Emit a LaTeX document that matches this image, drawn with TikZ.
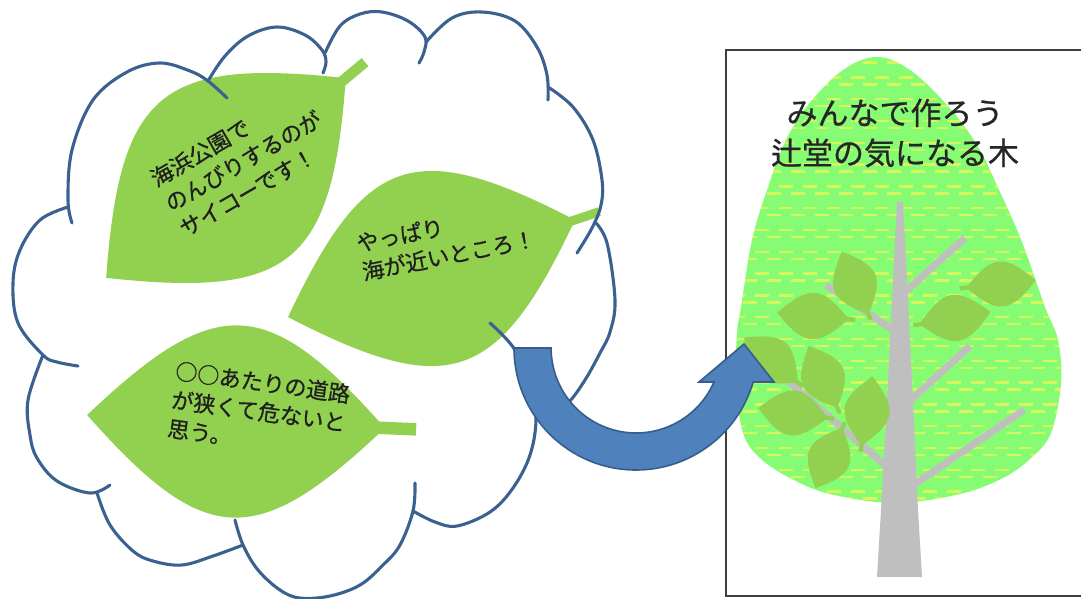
\documentclass[tikz,border=0pt]{standalone}
\usepackage{fontspec}
\newfontfamily\jpfont[FakeBold=0.7]{Noto Sans CJK JP}
\definecolor{leafgreen}{HTML}{92D050}
\definecolor{cloudline}{HTML}{3B6190}
\definecolor{arrowfill}{HTML}{4F81BD}
\definecolor{arrowline}{HTML}{385D8A}
\definecolor{canopy}{HTML}{86FC74}
\definecolor{canopydash}{HTML}{D6F65C}
\definecolor{bark}{HTML}{BFBFBF}
\definecolor{framegray}{HTML}{3F3F3F}

% leaf: centre x, centre y, rotation, half length, stem half width, stem end
\newcommand\drawleaf[6]{%
  \begin{scope}[shift={(#1,#2)}, rotate=#3, x=#4pt, y=#4pt]
    \fill[leafgreen] (-1,0) .. controls (-0.17,0.86) and (0.17,0.86) .. (1,0)
       .. controls (0.17,-0.86) and (-0.17,-0.86) .. (-1,0) -- cycle;
    \fill[leafgreen] (0.85,-#5) rectangle (#6,#5);
  \end{scope}}

\begin{document}
\begin{tikzpicture}[x=1pt, y=-1pt,
  cloudarc/.style={draw=cloudline, line width=3.1pt, line cap=round},
  leaftext/.style={font=\jpfont\fontsize{22}{29}\selectfont, align=left, inner sep=0pt, text=black!88},
  titletext/.style={font=\jpfont\fontsize{31}{40}\selectfont, align=center, inner sep=0pt, text=black!85},
  barkline/.style={draw=bark, line width=7pt},
  arrowshape/.style={fill=arrowfill, draw=arrowline, line width=1.6pt, line join=miter},
  dashrow/.style={draw=canopydash, line width=2.4pt, dash pattern=on 14pt off 10pt}]
\useasboundingbox (0,0) rectangle (1081,598);

% ---------- frame of the tree panel ----------
\draw[framegray, line width=1.4pt] (726,50) rectangle (1095,596);

% ---------- canopy with dashed texture ----------
\begin{scope}
  \clip plot[smooth cycle, tension=0.6] coordinates {(877,57) (910,70) (947,105) (977,145) (1000,192) (1022,242) (1045,307) (1058,340) (1061,383) (1051,433) (1031,458) (1003,478) (960,494) (895,503) (830,494) (790,478) (760,458) (743,433) (736,383) (737,333) (741,307) (752,240) (767,190) (785,142) (808,105) (843,70)};
  \fill[canopy] (730,50) rectangle (1070,510);
  \foreach \i in {0,...,21} {
    \pgfmathsetmacro\ya{55.5+21.8*\i}
    \pgfmathsetmacro\yb{\ya+7}
    \draw[dashrow] (731,\ya) -- (1065,\ya);
    \draw[dashrow, dash phase=12pt] (731,\yb) -- (1065,\yb);
  }
\end{scope}

% ---------- trunk and branches ----------
\draw[barkline] (905,292) -- (965,238);
\draw[barkline] (893,330) -- (826,285);
\draw[barkline] (911,400) -- (970,346);
\draw[barkline] (915,484) -- (1024,410);
\draw[barkline] (886,466) -- (788,381);
\fill[bark] (877,577) -- (922,577) -- (918,510) -- (913,400) -- (908,300) -- (903,202)
  -- (897,202) -- (892,300) -- (887,400) -- (881,510) -- cycle;

% ---------- small leaves on the branches ----------
\drawleaf{855}{283}{-67}{34}{0.06}{1.18}
\drawleaf{813}{316}{-5}{36}{0.06}{1.18}
\drawleaf{1001}{284}{186}{35}{0.06}{1.18}
\drawleaf{955}{318}{190}{36}{0.06}{1.18}
\drawleaf{771}{360}{-40}{35}{0.06}{1.18}
\drawleaf{823}{377}{-65}{34}{0.06}{1.18}
\drawleaf{793}{413}{-8}{35}{0.06}{1.18}
\drawleaf{867}{411}{261}{35}{0.06}{1.18}
\drawleaf{829}{458}{66}{33}{0.06}{1.18}

% ---------- title ----------
\node[titletext] (title) at (895,133) {みんなで作ろう\\辻堂の気になる木};

% ---------- big leaves inside the cloud ----------
\drawleaf{226}{178}{39.8}{156}{0.034}{1.16}
\drawleaf{431.5}{268.5}{18.7}{151.5}{0.03}{1.17}
\drawleaf{236}{421.5}{-2.5}{149}{0.042}{1.21}

% ---------- cloud outline ----------
\draw[cloudarc] plot[smooth, tension=0.6] coordinates {(72,223) (68,200) (72,150) (93,100) (127,72) (160,63) (190,71) (208,81) (227,98)};
\draw[cloudarc] plot[smooth, tension=0.6] coordinates {(208,81) (225,56) (248,36) (277,27) (305,35) (322,50) (326,62) (323,73)};
\draw[cloudarc] plot[smooth, tension=0.6] coordinates {(325,53) (340,26) (360,14) (382,12) (408,21) (425,37) (424,52) (419,63)};
\draw[cloudarc] plot[smooth, tension=0.6] coordinates {(426,42) (452,18) (482,12) (515,21) (537,47) (547,75) (548,100)};
\draw[cloudarc] plot[smooth, tension=0.6] coordinates {(548,87) (573,107) (593,140) (602,180) (601,205) (592,228) (577,253)};
\draw[cloudarc] plot[smooth, tension=0.6] coordinates {(595,222) (607,243) (615,300) (610,332) (600,353) (585,380) (568,403) (550,414) (537,418)};
\draw[cloudarc] plot[smooth, tension=0.6] coordinates {(490,323) (513,347) (530,380) (536,418) (530,455) (513,488) (490,512) (457,526) (435,522) (413,511)};
\draw[cloudarc] plot[smooth, tension=0.6] coordinates {(415,483) (413,511) (400,545) (383,565) (360,585) (330,596) (300,598) (280,590) (258,570) (243,545) (235,520)};
\draw[cloudarc] plot[smooth, tension=0.6] coordinates {(243,545) (213,556) (182,565) (153,561) (133,551) (110,525) (97,493)};
\draw[cloudarc] plot[smooth, tension=0.6] coordinates {(43,355) (28,400) (30,435) (37,458) (57,481) (90,493) (110,485)};
\draw[cloudarc] plot[smooth, tension=0.6] coordinates {(68,207) (40,220) (20,250) (13,283) (18,323) (43,355) (57,362) (78,366)};

% ---------- texts on the big leaves ----------
\node[leaftext, rotate=30] (idea1) at (243,161) {海浜公園で\\のんびりするのが\\サイコーです！};
\node[leaftext, rotate=11] (idea2) at (446,241) {やっぱり\\海が近いところ！};
\node[leaftext, rotate=-7.8] (idea3) at (259,411) {○○あたりの道路\\が狭くて危ないと\\思う。};

% ---------- curved arrow ----------
\draw[arrowshape] (514,348) arc[start angle=180, end angle=16.2, radius=122]
  -- (774,382) -- (744,344) -- (699,382) -- (714,382)
  arc[start angle=23.6, end angle=180, radius=85] -- cycle;
\end{tikzpicture}
\end{document}
